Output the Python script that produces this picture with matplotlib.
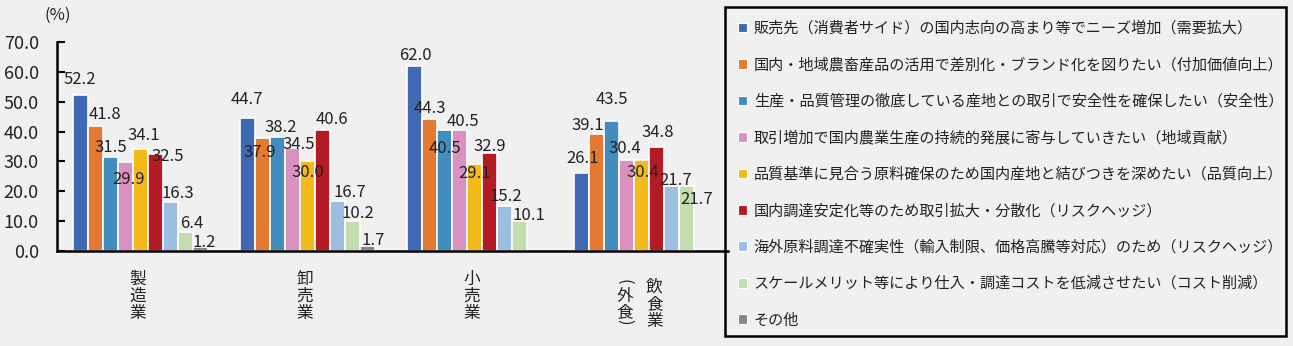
import matplotlib
matplotlib.use('Agg')
import matplotlib.pyplot as plt
import numpy as np
from matplotlib.patches import Patch, Rectangle

plt.rcParams['font.family'] = ['Noto Sans CJK JP', 'DejaVu Sans']

# data
industries = ['製造業', '卸売業', '小売業', '飲食業（外食）']
reasons = [
    '販売先（消費者サイド）の国内志向の高まり等でニーズ増加（需要拡大）',
    '国内・地域農畜産品の活用で差別化・ブランド化を図りたい（付加価値向上）',
    '生産・品質管理の徹底している産地との取引で安全性を確保したい（安全性）',
    '取引増加で国内農業生産の持続的発展に寄与していきたい（地域貢献）',
    '品質基準に見合う原料確保のため国内産地と結びつきを深めたい（品質向上）',
    '国内調達安定化等のため取引拡大・分散化（リスクヘッジ）',
    '海外原料調達不確実性（輸入制限、価格高騰等対応）のため（リスクヘッジ）',
    'スケールメリット等により仕入・調達コストを低減させたい（コスト削減）',
    'その他',
]
manufacturing = [52.2, 41.8, 31.5, 29.9, 34.1, 32.5, 16.3, 6.4, 1.2]
wholesale = [44.7, 37.9, 38.2, 34.5, 30.0, 40.6, 16.7, 10.2, 1.7]
retail = [62.0, 44.3, 40.5, 40.5, 29.1, 32.9, 15.2, 10.1, np.nan]
food_service = [26.1, 39.1, 43.5, 30.4, 30.4, 34.8, 21.7, 21.7, np.nan]
values = np.array([manufacturing, wholesale, retail, food_service])

colors = ['#3F69B3', '#E47932', '#428DBD', '#D891C0', '#F4BA1A',
          '#B41B25', '#9CBFE1', '#C3DDB1', '#878787']

# label nudges in pixels (dx, dy) so the value labels sit like the original
label_nudge = [
    [(-0.5, 16), (9.5, 12), (0.5, 9), (3.5, -18), (3.5, 14), (12.5, -3), (7.5, 9), (6.5, 8), (3.5, 5)],
    [(-0.5, 18), (-2.5, -15), (3.5, 9), (6.5, 3), (0.5, -11), (9.5, 10), (12.5, 9), (5.5, 7), (5.5, 5)],
    [(1, 10), (0.5, 10), (0.5, -18), (3.5, 9), (0.5, -9), (0.5, 6), (1, 9), (9.5, 5), (0, 0)],
    [(1, 15), (-8.5, 9), (0.5, 22), (-1.5, 12), (1.5, -12), (1.5, 15), (4.5, 6), (10.5, -13), (0, 0)],
]

bg = '#F0F0F0'
txt = '#222222'
fig = plt.figure(figsize=(12.93, 3.46), dpi=100, facecolor=bg)
ax = fig.add_axes([57 / 1293, 1 - 251 / 346, 668 / 1293, 209 / 346], facecolor=bg)

n = len(reasons)
ind = np.arange(len(industries))
w = 15 / 167

for i in range(n):
    x = ind + (i - (n - 1) / 2) * w
    ax.bar(x, values[:, i], w, color=colors[i], edgecolor='white', linewidth=1.2, zorder=2)
    for g in range(len(industries)):
        v = values[g, i]
        if np.isnan(v):
            continue
        dx, dy = label_nudge[g][i]
        ax.annotate('%.1f' % v, (x[g], v), xytext=(dx, dy), textcoords='offset pixels',
                    ha='center', va='center', fontsize=12, color=txt, zorder=3)

ax.set_xlim(-0.5, len(industries) - 0.5)
ax.set_ylim(0, 70)
ax.set_yticks(np.arange(0, 71, 10))
ax.set_yticklabels(['%.1f' % t for t in np.arange(0, 71, 10)])
ax.tick_params(axis='y', direction='in', length=6, width=1.5, pad=13, labelsize=13,
               colors='black', labelcolor=txt)
ax.set_xticks([])
for s in ['top', 'right']:
    ax.spines[s].set_visible(False)
for s in ['left', 'bottom']:
    ax.spines[s].set_linewidth(1.8)
    ax.spines[s].set_color('black')
ax.spines['bottom'].set_bounds(-0.5, 3.52)

# vertical category labels
trans = ax.get_xaxis_transform()


def vlabel(s, dx, dy, **kw):
    return ax.annotate(s, (g, 0), xytext=(dx, dy), textcoords='offset pixels',
                       xycoords=trans, ha='center', fontsize=12, color=txt, **kw)


for g, name in enumerate(industries):
    if '（' in name:
        main, sub = name.split('（')
        sub = sub.rstrip('）')
        vlabel('\n'.join(main), 13, -28, va='top', linespacing=1.0)
        # parentheses turned sideways for vertical writing
        vlabel('(', -17, -31, va='center', rotation=-90)
        vlabel('\n'.join(sub), -17, -37, va='top', linespacing=0.95)
        vlabel(')', -17, -71, va='center', rotation=-90)
    else:
        vlabel('\n'.join(name), -3, -20, va='top', linespacing=1.0)

fig.text(58 / 1293, 1 - 15 / 346, '(%)', ha='center', va='center', fontsize=12, color=txt)

handles = [Patch(facecolor=c, edgecolor='white', linewidth=0.8) for c in colors]
leg = fig.legend(handles, reasons, loc='upper left', bbox_to_anchor=(725 / 1293, 1 - 7 / 346),
                 fontsize=10.9, frameon=False, handlelength=0.6, handleheight=0.6,
                 handletextpad=0.45, labelspacing=1.285, borderpad=0.85, borderaxespad=0)
for t in leg.get_texts():
    t.set_color(txt)

# legend box drawn separately so its height matches the original
fig.add_artist(Rectangle((725 / 1293, 1 - 336 / 346), 561 / 1293, 329 / 346,
                         transform=fig.transFigure, fill=False, edgecolor='black',
                         linewidth=1.8))

fig.savefig('out.png', dpi=100, facecolor=bg)
